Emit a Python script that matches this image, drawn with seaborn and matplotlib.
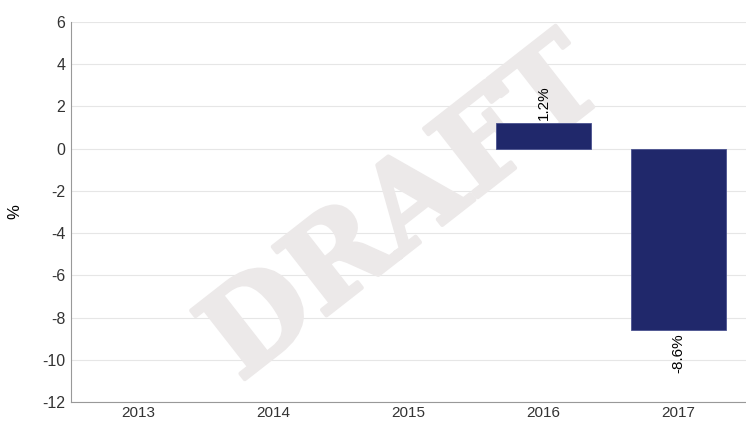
import numpy as np
import pandas as pd
import matplotlib
matplotlib.use("Agg")
import matplotlib.pyplot as plt
import matplotlib.patheffects as pe
import seaborn as sns

# values
years = ["2013", "2014", "2015", "2016", "2017"]
growth = [np.nan, np.nan, np.nan, 1.2, -8.6]
labels = ["", "", "", "1.2%", "-8.6%"]
yticks = [-12, -10, -8, -6, -4, -2, 0, 2, 4, 6]

df = pd.DataFrame({"year": years, "growth": growth})

sns.set_style("white")
plt.rcParams["font.family"] = ["Liberation Sans", "DejaVu Sans"]

fig = plt.figure(figsize=(7.46, 4.21), dpi=100)
ax = fig.add_axes([71 / 746, 19 / 421, 675 / 746, 380 / 421])

# watermark: inside the axes, below bars but above the grid
wm_color = "#ece9e9"
ax.text(0.495, 0.5, "DRAFT", transform=ax.transAxes, fontsize=86, fontweight="bold",
        family="DejaVu Serif", color=wm_color, rotation=38, ha="center", va="center",
        zorder=1, clip_on=False,
        path_effects=[pe.withStroke(linewidth=3, foreground=wm_color, capstyle="round",
                                    joinstyle="round")])

sns.barplot(data=df, x="year", y="growth", order=years, color="#20286b",
            width=0.7, saturation=1, edgecolor="#4a5290", linewidth=0.6, ax=ax, zorder=3)

for i, (v, lab) in enumerate(zip(growth, labels)):
    if np.isnan(v):
        continue
    if v >= 0:
        ax.text(i, v + 0.15, lab, rotation=90, ha="center", va="bottom", fontsize=11,
                color="black", zorder=4)
    else:
        ax.text(i, v - 0.15, lab, rotation=90, ha="center", va="top", fontsize=11,
                color="black", zorder=4)

ax.set_ylim(-12, 6)
ax.set_yticks(yticks)
ax.set_yticklabels([str(t) for t in yticks])
ax.set_xlim(-0.5, 4.5)
ax.yaxis.grid(True, color="#e6e6e6", linewidth=0.8, zorder=0)
ax.set_axisbelow(True)
ax.set_xlabel("")
ax.set_ylabel("%", fontsize=12, color="black", labelpad=14)
ax.tick_params(axis="y", length=0, labelsize=11.5, labelcolor="#333333", pad=4)
ax.tick_params(axis="x", length=0, labelsize=11, labelcolor="#333333", pad=3)

for s in ["top", "right"]:
    ax.spines[s].set_visible(False)
for s in ["left", "bottom"]:
    ax.spines[s].set_color("#999999")
    ax.spines[s].set_linewidth(0.8)

fig.savefig("out.png", dpi=100)
